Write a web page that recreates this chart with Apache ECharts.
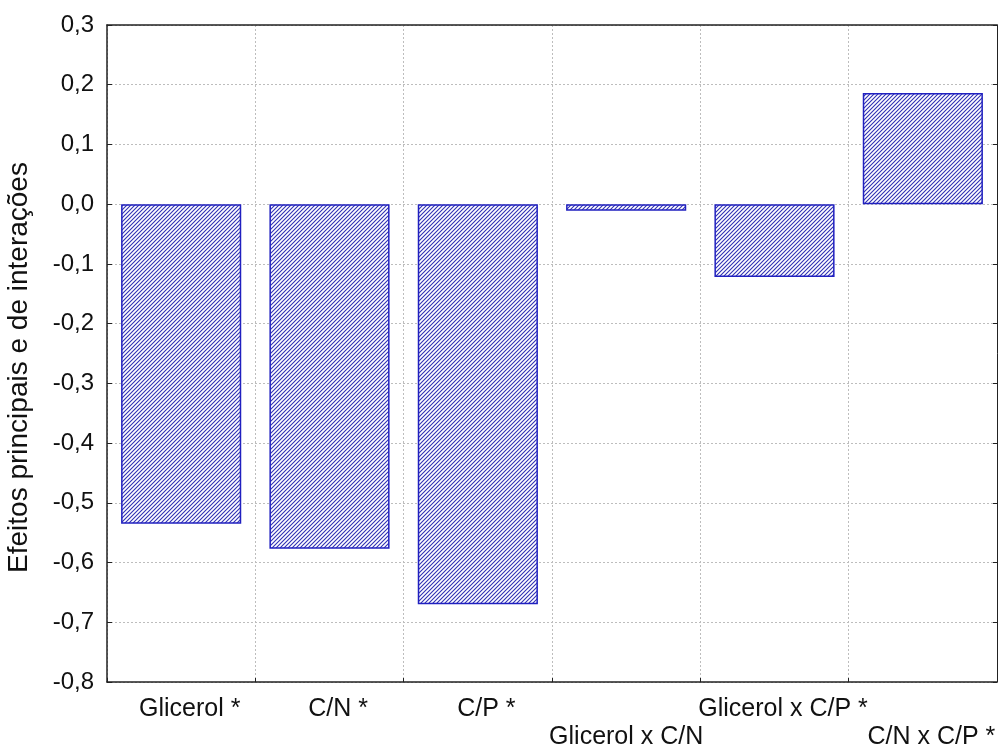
<!DOCTYPE html>
<html>
<head>
<meta charset="utf-8">
<script src="https://cdn.jsdelivr.net/npm/echarts@6/dist/echarts.min.js"></script>
<style>
  html, body { margin: 0; padding: 0; background: #ffffff; }
  #chart { width: 998px; height: 749px; }
</style>
</head>
<body>
<div id="chart"></div>
<script>
// ---- data ----
const categories = ['Glicerol *', 'C/N *', 'C/P *', 'Glicerol x C/N', 'Glicerol x C/P *', 'C/N x C/P *'];
const effects = [-0.535, -0.577, -0.670, -0.011, -0.122, 0.186];
const yAxisTitle = 'Efeitos principais e de interações';
const yMin = -0.8, yMax = 0.3, yStep = 0.1;

// ---- hatch pattern ----
function makeHatch() {
  const s = 4;
  const c = document.createElement('canvas');
  c.width = s; c.height = s;
  const ctx = c.getContext('2d');
  ctx.fillStyle = '#ffffff';
  ctx.fillRect(0, 0, s, s);
  ctx.strokeStyle = '#3030b4';
  ctx.lineWidth = 1.1;
  ctx.beginPath();
  ctx.moveTo(-1, s + 1); ctx.lineTo(s + 1, -1);
  ctx.moveTo(-1, 1); ctx.lineTo(1, -1);
  ctx.moveTo(s - 1, s + 1); ctx.lineTo(s + 1, s - 1);
  ctx.stroke();
  return c;
}

const lowered = [3, 5];
const fmt = v => {
  if (Math.abs(v) < 1e-9) v = 0;
  return v.toFixed(1).replace('.', ',');
};
const font = 'Liberation Sans, Arial, sans-serif';
const labelFmt = (v, i) => {
  const pre = lowered.includes(i) ? '\n' : '';
  if (v.endsWith(' *')) {
    return pre + '{b|' + v.slice(0, -2) + '}{a| *}';
  }
  return pre + '{n|' + v + '}';
};
const chart = echarts.init(document.getElementById('chart'), null, { renderer: 'canvas' });

const lblStyle = { fontFamily: font, fontSize: 25, color: '#111', lineHeight: 28 };

chart.setOption({
  animation: false,
  backgroundColor: '#ffffff',
  grid: { left: 107, right: 1, top: 25, bottom: 67, containLabel: false, outerBoundsMode: 'none' },
  xAxis: [{
    type: 'category',
    data: categories,
    boundaryGap: true,
    axisLine: { show: true, onZero: false, lineStyle: { color: '#222', width: 1.5 } },
    axisTick: { show: true, inside: true, length: 4, lineStyle: { color: '#222' } },
    splitLine: { show: true, lineStyle: { color: '#bdbdbd', type: [2, 2], width: 1 } },
    axisLabel: Object.assign({
      interval: 0,
      margin: 13,
      formatter: labelFmt,
      rich: {
        n: Object.assign({}, lblStyle),
        b: Object.assign({ padding: [0, 0, 0, 17] }, lblStyle),
        a: Object.assign({}, lblStyle)
      }
    }, lblStyle)
  }, {
    type: 'category',
    position: 'top',
    data: categories,
    axisLine: { show: true, onZero: false, lineStyle: { color: '#222', width: 1.5 } },
    axisTick: { show: false },
    axisLabel: { show: false },
    splitLine: { show: false }
  }],
  yAxis: [{
    type: 'value',
    min: yMin, max: yMax, interval: yStep,
    name: yAxisTitle,
    nameLocation: 'middle',
    nameGap: 74,
    nameTextStyle: { fontFamily: font, fontSize: 28, color: '#111', padding: [0, 28, 0, 0] },
    axisLine: { show: true, onZero: false, lineStyle: { color: '#222', width: 1.5 } },
    axisTick: { show: true, inside: true, length: 5, lineStyle: { color: '#222' } },
    splitLine: { show: true, lineStyle: { color: '#bdbdbd', type: [2, 2], width: 1 } },
    axisLabel: { margin: 13, color: '#111', fontFamily: font, fontSize: 24, formatter: fmt }
  }, {
    type: 'value',
    position: 'right',
    min: yMin, max: yMax, interval: yStep,
    axisLine: { show: true, onZero: false, lineStyle: { color: '#222', width: 1 } },
    axisTick: { show: true, inside: true, length: 4, lineStyle: { color: '#222' } },
    axisLabel: { show: false },
    splitLine: { show: false }
  }],
  series: [{
    type: 'bar',
    data: effects,
    barWidth: '81%',
    itemStyle: {
      color: { image: makeHatch(), repeat: 'repeat' },
      borderColor: '#2020c0',
      borderWidth: 1.5
    },
    emphasis: { disabled: true }
  }]
});
</script>
</body>
</html>
